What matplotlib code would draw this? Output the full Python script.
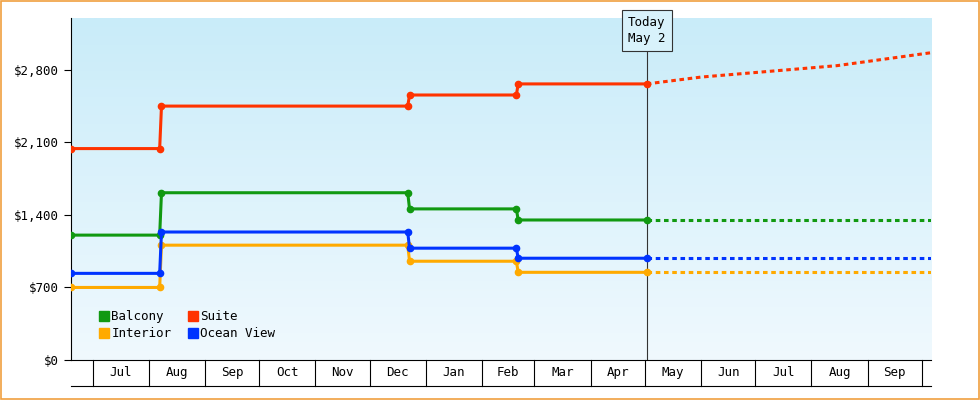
import numpy as np
import pandas as pd
import matplotlib.pyplot as plt
from matplotlib.lines import Line2D
from matplotlib.colors import LinearSegmentedColormap

plt.rcParams['font.family'] = ['DejaVu Sans Mono']

start = pd.Timestamp('2023-06-19')
end = pd.Timestamp('2024-10-06')
today = pd.Timestamp('2024-05-02')

# price change dates (history), each series' value at each segment
change_dates = ['2023-06-19', '2023-08-07', '2023-12-22', '2024-02-20', '2024-05-02']
balcony = [1205, 1614, 1458, 1351, 1351]
suite = [2040, 2450, 2557, 2664, 2664]
interior = [700, 1108, 953, 846, 846]
ocean_view = [836, 1235, 1079, 982, 982]

# forecast (dotted) after today
suite_fc_dates = ['2024-05-02', '2024-06-01', '2024-08-15', '2024-10-06']
suite_fc = [2664, 2730, 2840, 2965]

month_edges = pd.date_range('2023-07-01', '2024-10-01', freq='MS')
month_labels = ['Jul', 'Aug', 'Sep', 'Oct', 'Nov', 'Dec', 'Jan', 'Feb', 'Mar',
                'Apr', 'May', 'Jun', 'Jul', 'Aug', 'Sep']


def day(d):
    return (pd.Timestamp(d) - start).days


fig = plt.figure(figsize=(9.8, 4), dpi=100)
fig.patch.set_facecolor('white')
fig.add_artist(plt.Rectangle((0.001, 0.002), 0.998, 0.996, transform=fig.transFigure,
                             fill=False, ec='#f0a040', lw=1.2))
ax = fig.add_axes([0.0724, 0.1, 0.8776, 0.855])
xmax = day(end)
ax.set_xlim(0, xmax)
ax.set_ylim(0, 3300)

grad = np.linspace(0, 1, 256).reshape(-1, 1)
cm = LinearSegmentedColormap.from_list('bg', ['#f0f9fe', '#c9ecf9'])
ax.imshow(grad, aspect='auto', cmap=cm, origin='lower',
          extent=[0, xmax, 0, 3300], zorder=0)

series = [('Balcony', balcony, '#119911'), ('Suite', suite, '#ff3300'),
          ('Interior', interior, '#ffaa00'), ('Ocean View', ocean_view, '#0033ff')]
xs = [day(d) for d in change_dates]
for name, vals, col in series:
    px, py = [], []
    for i in range(len(xs) - 1):
        x0 = xs[i] + (1 if i > 0 else 0)
        px += [x0, xs[i + 1]]
        py += [vals[i], vals[i]]
    ax.plot(px, py, color=col, lw=2.2, marker='o', ms=4.5, zorder=3)
    if name == 'Suite':
        ax.plot([day(d) for d in suite_fc_dates], suite_fc, color=col, lw=2.2,
                ls=(0, (1.5, 1.2)), zorder=3)
    else:
        ax.plot([xs[-1], xmax], [vals[-1], vals[-1]], color=col, lw=2.2,
                ls=(0, (1.5, 1.2)), zorder=3)

tx = day(today)
ax.plot([tx, tx], [0, 3070], color='#333333', lw=0.8, zorder=2)
ax.text(tx, 3180, 'Today\nMay 2', ha='center', va='center', fontsize=9,
        linespacing=1.3,
        bbox=dict(boxstyle='square,pad=0.5', fc='#d8f2fb', ec='#333333', lw=0.8))

ax.set_yticks([0, 700, 1400, 2100, 2800])
ax.set_yticklabels(['$0', '$700', '$1,400', '$2,100', '$2,800'], fontsize=9)
ax.tick_params(axis='y', length=5)
ax.set_xticks([])
for s in ['top', 'right']:
    ax.spines[s].set_visible(False)

trans = ax.get_xaxis_transform()
for d in month_edges:
    ax.plot([day(d)] * 2, [0, -0.075], color='black', lw=0.8, transform=trans, clip_on=False)
ax.plot([0, xmax], [-0.075, -0.075], color='black', lw=0.8, transform=trans, clip_on=False)
for i, lab in enumerate(month_labels):
    a = day(month_edges[i])
    b = day(month_edges[i] + pd.offsets.MonthEnd(0)) + 1
    ax.text((a + b) / 2, -0.038, lab, ha='center', va='center', fontsize=9,
            transform=trans)

# column-major legend order so rows read Balcony/Suite, Interior/Ocean View
order = [0, 2, 1, 3]
handles = [Line2D([], [], color=series[i][2], marker='s', ls='', ms=7) for i in order]
ax.legend(handles, [series[i][0] for i in order], ncol=2, loc='lower left',
          bbox_to_anchor=(0.015, 0.025), frameon=False, fontsize=9,
          handletextpad=-0.2, columnspacing=1.0, labelspacing=0.3, handlelength=1.5)

fig.savefig('out.png', dpi=100)
